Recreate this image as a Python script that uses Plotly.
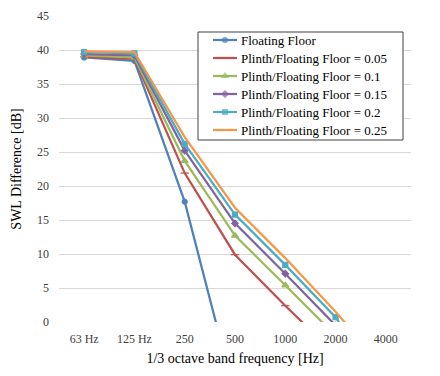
import plotly.graph_objects as go

categories = ["63 Hz", "125 Hz", "250", "500", "1000", "2000", "4000"]

floating_floor = [38.9, 38.4, 17.7, -10.9, None, None, None]
ratio_005 = [39.0, 38.7, 21.9, 9.9, 2.4, -4.8, None]
ratio_010 = [39.2, 38.9, 23.7, 12.7, 5.4, -2.0, None]
ratio_015 = [39.4, 39.2, 25.2, 14.5, 7.1, -0.5, None]
ratio_020 = [39.7, 39.5, 26.2, 15.8, 8.4, 0.7, -10.0]
ratio_025 = [39.8, 39.7, 27.2, 16.8, 9.4, 1.5, -7.0]

y_ticks = [0, 5, 10, 15, 20, 25, 30, 35, 40, 45]

series = [
    ("Floating Floor", floating_floor, "#4F81BD", "circle", 5),
    ("Plinth/Floating Floor = 0.05", ratio_005, "#C0504D", "line-ew", 6),
    ("Plinth/Floating Floor = 0.1", ratio_010, "#9BBB59", "triangle-up", 6),
    ("Plinth/Floating Floor = 0.15", ratio_015, "#8064A2", "diamond", 5),
    ("Plinth/Floating Floor = 0.2", ratio_020, "#4BACC6", "square", 5),
    ("Plinth/Floating Floor = 0.25", ratio_025, "#F79646", None, 0),
]

serif = "Liberation Serif"

fig = go.Figure()
for name, vals, color, sym, size in series:
    if sym is None:
        marker = dict(size=1, color=color, opacity=0)
        mode = "lines"
    else:
        marker = dict(symbol=sym, size=size, color=color,
                      line=dict(color=color, width=1.2))
        mode = "lines+markers"
    fig.add_trace(go.Scatter(
        x=categories, y=vals, name=name, mode=mode,
        line=dict(color=color, width=2.25),
        marker=marker, connectgaps=False, showlegend=False,
    ))

# ---- custom legend drawn on an overlay axis measured in page pixels ----
LG_LEFT, LG_RIGHT, LG_TOP, LG_BOTTOM = 198, 403, 32, 140
LG_ROW0, LG_ROW_STEP = 40, 18
LG_LINE_X0, LG_LINE_X1, LG_TEXT_X = 213, 237, 239

fig.add_trace(go.Scatter(
    x=[LG_LEFT, LG_RIGHT, LG_RIGHT, LG_LEFT, LG_LEFT],
    y=[LG_TOP, LG_TOP, LG_BOTTOM, LG_BOTTOM, LG_TOP],
    xaxis="x2", yaxis="y2", mode="lines", fill="toself",
    fillcolor="white", line=dict(color="#404040", width=1),
    hoverinfo="skip", showlegend=False,
))

annotations = []
for i, (name, vals, color, sym, size) in enumerate(series):
    yy = LG_ROW0 + LG_ROW_STEP * i
    mid = (LG_LINE_X0 + LG_LINE_X1) / 2
    if sym is None:
        mk = dict(size=[0, 0, 0], color=color, opacity=0)
    else:
        mk = dict(symbol=sym, size=[0, size, 0], color=color,
                  line=dict(color=color, width=1.2))
    fig.add_trace(go.Scatter(
        x=[LG_LINE_X0, mid, LG_LINE_X1], y=[yy, yy, yy],
        xaxis="x2", yaxis="y2", mode="lines+markers",
        line=dict(color=color, width=2.25), marker=mk,
        hoverinfo="skip", showlegend=False,
    ))
    annotations.append(dict(
        x=LG_TEXT_X, y=yy, xref="x2", yref="y2", text=name,
        showarrow=False, xanchor="left", yanchor="middle",
        font=dict(family=serif, size=13, color="#000000"),
    ))

fig.update_layout(
    width=432, height=368,
    margin=dict(l=51, r=29, t=8, b=54, autoexpand=False),
    paper_bgcolor="white", plot_bgcolor="white",
    font=dict(family=serif, size=12, color="#404040"),
    showlegend=False,
    annotations=annotations,
    xaxis=dict(
        type="category", categoryorder="array", categoryarray=categories,
        range=[-0.5, 6.5], showgrid=False, zeroline=False, showline=False,
        ticks="", automargin=False, ticklabelstandoff=8,
        tickfont=dict(family=serif, size=12, color="#404040"),
        title=dict(text="1/3 octave band frequency [Hz]",
                   font=dict(family=serif, size=14, color="#000000"),
                   standoff=8),
    ),
    yaxis=dict(
        range=[0, 45], tickvals=y_ticks, showgrid=True, gridcolor="#D9D9D9",
        gridwidth=1, zeroline=False, showline=False, ticks="",
        automargin=False, ticklabelstandoff=9,
        tickfont=dict(family=serif, size=12, color="#404040"),
        title=dict(text="SWL Difference [dB]",
                   font=dict(family=serif, size=14, color="#000000"),
                   standoff=12),
    ),
    xaxis2=dict(overlaying="x", range=[59, 411], visible=False,
                fixedrange=True),
    yaxis2=dict(overlaying="y", range=[322, 16], visible=False,
                fixedrange=True),
)

fig.write_html("out.html")
